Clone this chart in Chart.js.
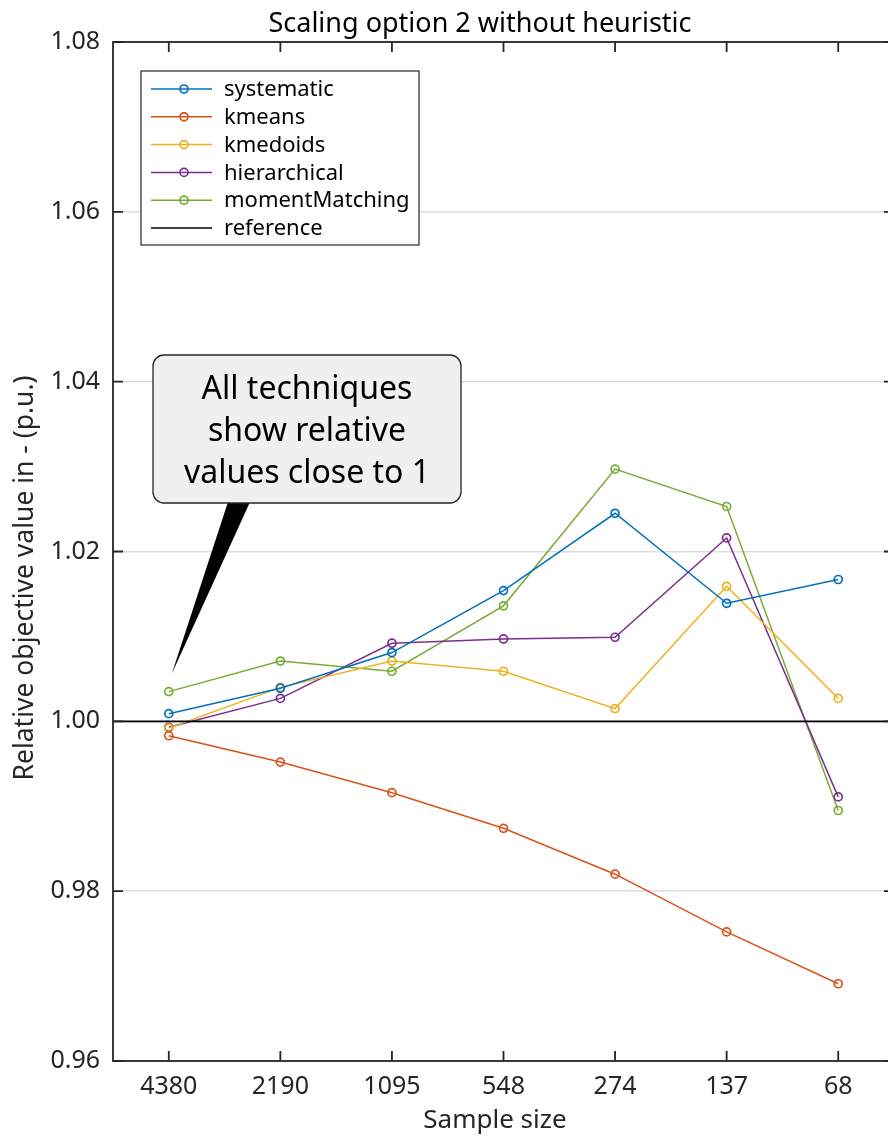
<!DOCTYPE html>
<html>
<head>
<meta charset="utf-8">
<script src="https://cdn.jsdelivr.net/npm/chart.js@4"></script>
<style>
  html, body { margin: 0; padding: 0; background: #fff; overflow: hidden; }
  #wrap { width: 888px; height: 1139px; overflow: hidden; }
</style>
</head>
<body>
<div id="wrap"><canvas id="chart" width="900" height="1139"></canvas></div>
<script>
const sampleSizes = ['4380', '2190', '1095', '548', '274', '137', '68'];
const seriesNames = ['systematic', 'kmeans', 'kmedoids', 'hierarchical', 'momentMatching'];
const seriesColors = ['#0072BD', '#D95319', '#EDB120', '#7E2F8E', '#77AC30'];

const systematic     = [1.0009, 1.0039, 1.0081, 1.0154, 1.0245, 1.0139, 1.0167];
const kmeans         = [0.9983, 0.9952, 0.9916, 0.9874, 0.9820, 0.9752, 0.9691];
const kmedoids       = [0.9992, 1.0040, 1.0071, 1.0059, 1.0015, 1.0159, 1.0027];
const hierarchical   = [0.9993, 1.0027, 1.0092, 1.0097, 1.0099, 1.0216, 0.9911];
const momentMatching = [1.0035, 1.0071, 1.0059, 1.0136, 1.0297, 1.0253, 0.9895];

const referenceValue = 1.0;
const yTicks = [0.96, 0.98, 1.00, 1.02, 1.04, 1.06, 1.08];
const titleText = 'Scaling option 2 without heuristic';
const xTitle = 'Sample size';
const yTitle = 'Relative objective value in - (p.u.)';
const calloutLines = ['All techniques', 'show relative', 'values close to 1'];
const calloutTarget = { index: 0, value: 1.0056 };

const FONT = '"Noto Sans", "Open Sans", sans-serif';
const AXIS_COLOR = '#262626';

const allSeries = [systematic, kmeans, kmedoids, hierarchical, momentMatching];
const datasets = allSeries.map((vals, i) => ({
  label: seriesNames[i],
  data: vals,
  borderColor: seriesColors[i],
  backgroundColor: seriesColors[i],
  borderWidth: 1.5,
  pointRadius: 4,
  pointBorderWidth: 1.7,
  pointBackgroundColor: 'rgba(0,0,0,0)',
  pointBorderColor: seriesColors[i],
  tension: 0
}));

// axes box with inward ticks, reference line, titles, legend, callout
const decorations = {
  id: 'decorations',
  afterDatasetsDraw(chart) {
    const ctx = chart.ctx;
    const { left, right } = chart.chartArea;
    const yRef = chart.scales.y.getPixelForValue(referenceValue);
    ctx.save();
    ctx.strokeStyle = '#000';
    ctx.lineWidth = 1.6;
    ctx.beginPath();
    ctx.moveTo(left, yRef);
    ctx.lineTo(right, yRef);
    ctx.stroke();
    ctx.restore();
  },
  afterDraw(chart) {
    const ctx = chart.ctx;
    const { left, right, top, bottom } = chart.chartArea;
    const xs = chart.scales.x, ys = chart.scales.y;
    ctx.save();

    // box
    ctx.strokeStyle = AXIS_COLOR;
    ctx.lineWidth = 1.8;
    ctx.strokeRect(left, top, right - left, bottom - top);

    // inward ticks
    const tl = 10;
    ctx.beginPath();
    sampleSizes.forEach((s, i) => {
      const px = xs.getPixelForValue(i);
      ctx.moveTo(px, bottom); ctx.lineTo(px, bottom - tl);
      ctx.moveTo(px, top); ctx.lineTo(px, top + tl);
    });
    yTicks.forEach(v => {
      const py = ys.getPixelForValue(v);
      ctx.moveTo(left, py); ctx.lineTo(left + tl, py);
      ctx.moveTo(right, py); ctx.lineTo(right - tl, py);
    });
    ctx.stroke();

    // titles
    ctx.textBaseline = 'alphabetic';
    ctx.textAlign = 'center';
    ctx.fillStyle = '#000';
    ctx.font = '27px ' + FONT;
    ctx.fillText(titleText, 480, 32);
    ctx.fillStyle = AXIS_COLOR;
    ctx.font = '26px ' + FONT;
    ctx.fillText(xTitle, 495, 1128);
    ctx.save();
    ctx.translate(33, 578);
    ctx.rotate(-Math.PI / 2);
    ctx.font = '26.5px ' + FONT;
    ctx.fillText(yTitle, 0, 0);
    ctx.restore();

    // legend
    const lg = { x: 141, y: 71, w: 278, h: 174, row: 27.8, first: 89 };
    ctx.fillStyle = '#fff';
    ctx.fillRect(lg.x, lg.y, lg.w, lg.h);
    ctx.strokeStyle = AXIS_COLOR;
    ctx.lineWidth = 1.2;
    ctx.strokeRect(lg.x, lg.y, lg.w, lg.h);
    const entries = chart.data.datasets.map(d => ({ label: d.label, color: d.borderColor, marker: true }));
    entries.push({ label: 'reference', color: '#000', marker: false });
    ctx.font = '22px ' + FONT;
    ctx.textBaseline = 'middle';
    ctx.textAlign = 'left';
    entries.forEach((e, i) => {
      const cy = lg.first + i * lg.row;
      ctx.strokeStyle = e.color;
      ctx.lineWidth = 1.5;
      ctx.beginPath();
      ctx.moveTo(151, cy); ctx.lineTo(212, cy);
      ctx.stroke();
      if (e.marker) {
        ctx.lineWidth = 1.7;
        ctx.beginPath();
        ctx.arc(184, cy, 4, 0, Math.PI * 2);
        ctx.stroke();
      }
      ctx.fillStyle = '#000';
      ctx.fillText(e.label, 224, cy + 1);
    });

    // callout
    const bx = 153, by = 355, bw = 308, bh = 148, r = 11;
    const tipX = xs.getPixelForValue(calloutTarget.index) + 3;
    const tipY = ys.getPixelForValue(calloutTarget.value);
    ctx.fillStyle = '#000';
    ctx.beginPath();
    ctx.moveTo(228, by + bh - 1);
    ctx.lineTo(250, by + bh - 1);
    ctx.lineTo(tipX, tipY);
    ctx.closePath();
    ctx.fill();

    ctx.beginPath();
    ctx.moveTo(bx + r, by);
    ctx.arcTo(bx + bw, by, bx + bw, by + bh, r);
    ctx.arcTo(bx + bw, by + bh, bx, by + bh, r);
    ctx.arcTo(bx, by + bh, bx, by, r);
    ctx.arcTo(bx, by, bx + bw, by, r);
    ctx.closePath();
    ctx.fillStyle = '#f0f0f0';
    ctx.fill();
    ctx.strokeStyle = AXIS_COLOR;
    ctx.lineWidth = 1.3;
    ctx.stroke();

    ctx.fillStyle = '#000';
    ctx.font = '32px ' + FONT;
    ctx.textAlign = 'center';
    ctx.textBaseline = 'alphabetic';
    calloutLines.forEach((t, i) => {
      ctx.fillText(t, bx + bw / 2, 399 + i * 42);
    });
    ctx.restore();
  }
};

new Chart(document.getElementById('chart'), {
  type: 'line',
  data: { labels: sampleSizes, datasets: datasets },
  options: {
    responsive: false,
    animation: false,
    layout: { padding: { top: 42, right: 6, bottom: 0, left: 0 } },
    plugins: {
      legend: { display: false },
      tooltip: { enabled: false },
      title: { display: false }
    },
    scales: {
      x: {
        offset: true,
        grid: { display: false, drawTicks: false },
        border: { display: false },
        ticks: { color: AXIS_COLOR, font: { family: FONT, size: 25 }, padding: 11, maxRotation: 0, autoSkip: false },
        afterFit(scale) { scale.height = 78; }
      },
      y: {
        min: 0.96,
        max: 1.08,
        afterBuildTicks(scale) { scale.ticks = yTicks.map(v => ({ value: v })); },
        grid: { color: '#dcdcdc', lineWidth: 1.5, drawTicks: false },
        border: { display: false },
        ticks: {
          color: AXIS_COLOR,
          font: { family: FONT, size: 25 },
          padding: 13,
          callback: v => Number(v).toFixed(2)
        },
        afterFit(scale) { scale.width = 113; }
      }
    }
  },
  plugins: [decorations]
});
</script>
</body>
</html>
